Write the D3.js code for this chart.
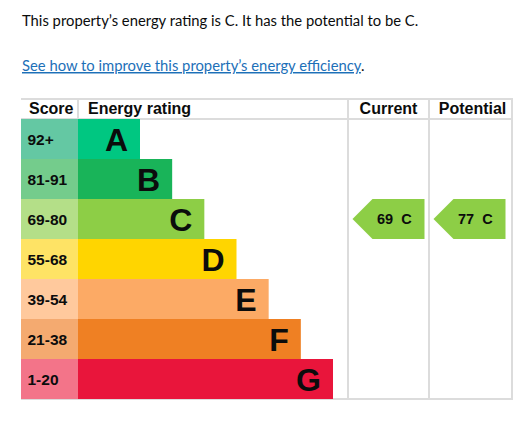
<!DOCTYPE html>
<html>
<head>
<meta charset="utf-8">
<script src="https://cdn.jsdelivr.net/npm/d3@7"></script>
<style>
  body { margin: 0; background: #fff; }
  svg { display: block; }
</style>
</head>
<body>
<div id="chart"></div>
<script>
// EPC energy rating table
const bands = ['A', 'B', 'C', 'D', 'E', 'F', 'G'];
const scoreRanges = ['92+', '81-91', '69-80', '55-68', '39-54', '21-38', '1-20'];
const columns = ['Score', 'Energy rating', 'Current', 'Potential'];
const currentRating = { score: 69, band: 'C' };
const potentialRating = { score: 77, band: 'C' };
const summaryText = 'This property\u2019s energy rating is C. It has the potential to be C.';
const linkText = 'See how to improve this property\u2019s energy efficiency';

const barColours = ['#00c781', '#19b459', '#8dce46', '#ffd500', '#fcaa65', '#ef8023', '#e9153b'];
const scoreColours = ['#64c8a3', '#74cc8c', '#b4df88', '#fee365', '#ffc99d', '#f4aa70', '#f37489'];

const width = 529;
const height = 425;
const font = '"Liberation Sans", Arial, sans-serif';
const bodyFont = 'Lato, "Noto Sans", sans-serif';

const table = { left: 21, right: 512, top: 99, header: 119, bottom: 399 };
const colX = [21, 78, 348, 429, 512];

const svg = d3.select('#chart')
  .append('svg')
  .attr('width', width)
  .attr('height', height);

// intro text
svg.append('text')
  .attr('x', 22)
  .attr('y', 26)
  .style('font-family', bodyFont)
  .style('font-size', '14.8px')
  .attr('fill', '#0b0c0c')
  .text(summaryText);

const link = svg.append('text')
  .attr('x', 22)
  .attr('y', 71)
  .style('font-family', bodyFont)
  .style('font-size', '14.8px');
link.append('tspan')
  .attr('fill', '#1d70b8')
  .style('text-decoration', 'underline')
  .text(linkText);
link.append('tspan')
  .attr('fill', '#0b0c0c')
  .text('.');

const y = d3.scaleBand()
  .domain(bands)
  .range([table.header, table.bottom]);

const barWidth = d3.scaleLinear()
  .domain([0, bands.length - 1])
  .range([62, 255]);

// grid lines
const grid = svg.append('g')
  .attr('stroke', '#dcdcdc')
  .attr('stroke-width', 2);
[table.top, table.header, table.bottom].forEach((yy) => {
  grid.append('line')
    .attr('x1', table.left).attr('x2', table.right + 1)
    .attr('y1', yy).attr('y2', yy);
});
colX.slice(1).forEach((xx) => {
  grid.append('line')
    .attr('x1', xx).attr('x2', xx)
    .attr('y1', table.top).attr('y2', table.bottom);
});

// header labels
const headerAlign = [
  { x: colX[0] + 8, anchor: 'start' },
  { x: colX[1] + 10, anchor: 'start' },
  { x: (colX[2] + colX[3]) / 2, anchor: 'middle' },
  { x: (colX[3] + colX[4]) / 2 + 2, anchor: 'middle' },
];
svg.append('g')
  .selectAll('text')
  .data(columns)
  .enter()
  .append('text')
  .attr('x', (d, i) => headerAlign[i].x)
  .attr('y', 114)
  .attr('text-anchor', (d, i) => headerAlign[i].anchor)
  .style('font-family', font)
  .style('font-size', '16px')
  .style('font-weight', 'bold')
  .attr('fill', '#0b0c0c')
  .text((d) => d);

// score cells
const rows = svg.append('g')
  .selectAll('g')
  .data(bands)
  .enter()
  .append('g');

rows.append('rect')
  .attr('x', colX[0])
  .attr('y', (d) => y(d))
  .attr('width', colX[1] - colX[0])
  .attr('height', y.bandwidth())
  .attr('fill', (d, i) => scoreColours[i]);

rows.append('text')
  .attr('x', colX[0] + 6.5)
  .attr('y', (d) => y(d) + y.bandwidth() / 2 + 5.5)
  .style('font-family', font)
  .style('font-size', '15.5px')
  .style('font-weight', 'bold')
  .attr('fill', '#0b0c0c')
  .text((d, i) => scoreRanges[i]);

// rating bars
rows.append('rect')
  .attr('x', colX[1])
  .attr('y', (d) => y(d))
  .attr('width', (d, i) => barWidth(i))
  .attr('height', y.bandwidth())
  .attr('fill', (d, i) => barColours[i]);

rows.append('text')
  .attr('x', (d, i) => colX[1] + barWidth(i) - 12)
  .attr('y', (d) => y(d) + y.bandwidth() / 2 + 11.5)
  .attr('text-anchor', 'end')
  .style('font-family', font)
  .style('font-size', '32px')
  .style('font-weight', 'bold')
  .attr('fill', '#0b0c0c')
  .text((d) => d);

// current / potential arrows
function drawArrow(rating, colLeft) {
  const top = y(rating.band);
  const h = y.bandwidth();
  const tip = colLeft + 4.5;
  const w = 72;
  const g = svg.append('g');
  g.append('path')
    .attr('d', `M${tip},${top + h / 2} L${tip + 20},${top} L${tip + w},${top} ` +
      `L${tip + w},${top + h} L${tip + 20},${top + h} Z`)
    .attr('fill', barColours[bands.indexOf(rating.band)]);
  g.append('text')
    .attr('x', tip + 24.5)
    .attr('y', top + h / 2 + 5)
    .style('font-family', font)
    .style('font-size', '14.5px')
    .style('font-weight', 'bold')
    .style('white-space', 'pre')
    .attr('fill', '#0b0c0c')
    .text(`${rating.score}  ${rating.band}`);
}

drawArrow(currentRating, colX[2]);
drawArrow(potentialRating, colX[3]);
</script>
</body>
</html>
